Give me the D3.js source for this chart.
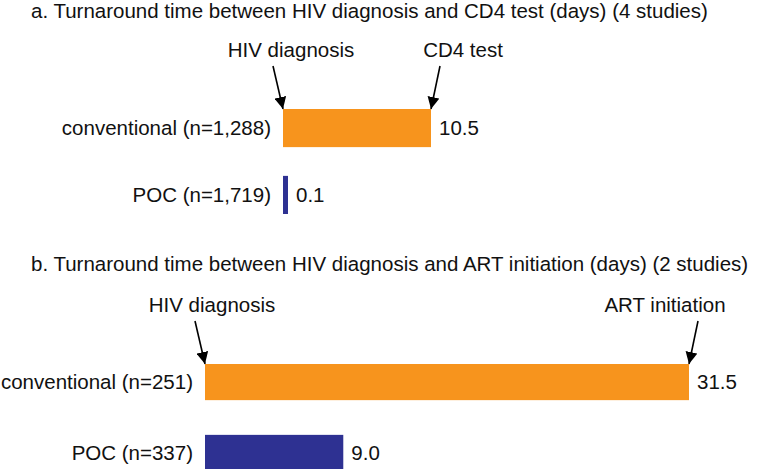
<!DOCTYPE html>
<html>
<head>
<meta charset="utf-8">
<script src="https://cdn.jsdelivr.net/npm/d3@7/dist/d3.min.js"></script>
<style>
  html, body { margin: 0; padding: 0; background: #fff; }
  text { font-family: "Liberation Sans", Arial, Helvetica, sans-serif; fill: #111; }
</style>
</head>
<body>
<svg id="chart" width="759" height="469"></svg>
<script>
// ---- data ----
const titleA = "a. Turnaround time between HIV diagnosis and CD4 test (days) (4 studies)";
const titleB = "b. Turnaround time between HIV diagnosis and ART initiation (days) (2 studies)";
const categoriesA = ["conventional (n=1,288)", "POC (n=1,719)"];
const valuesA = [10.5, 0.1];
const labelsA = ["10.5", "0.1"];
const categoriesB = ["conventional (n=251)", "POC (n=337)"];
const valuesB = [31.5, 9.0];
const labelsB = ["31.5", "9.0"];
const groups = ["conventional", "POC"];
const colors = ["#F7941D", "#2E3192"];
const annotA = ["HIV diagnosis", "CD4 test"];
const annotB = ["HIV diagnosis", "ART initiation"];

const svg = d3.select("#chart");
const FS = 20.5;

svg.append("defs").append("marker")
  .attr("id", "arrow")
  .attr("viewBox", "0 0 12 12")
  .attr("refX", 12).attr("refY", 6)
  .attr("markerWidth", 12).attr("markerHeight", 12)
  .attr("markerUnits", "userSpaceOnUse")
  .attr("orient", "auto")
  .append("path").attr("d", "M0,0 L12,6 L0,12 Z").attr("fill", "#000");

const color = d3.scaleOrdinal().domain(groups).range(colors);

function panel(cfg) {
  const g = svg.append("g");
  g.append("text")
    .attr("x", 31).attr("y", cfg.titleY)
    .attr("font-size", FS)
    .text(cfg.title);

  const x = d3.scaleLinear().domain([0, d3.max(cfg.values)]).range([cfg.x0, cfg.x1]);
  const y = d3.scaleBand().domain(cfg.categories).range([cfg.yTop, cfg.yBottom]).paddingInner(cfg.pad).paddingOuter(0);

  cfg.categories.forEach((c, i) => {
    const v = cfg.values[i];
    const w = Math.max(x(v) - x(0), 5);
    g.append("rect")
      .attr("x", x(0)).attr("y", y(c))
      .attr("width", w).attr("height", y.bandwidth())
      .attr("fill", color(groups[i]));
    g.append("text")
      .attr("x", x(0) + w + 8)
      .attr("y", y(c) + y.bandwidth() / 2)
      .attr("dy", "0.35em")
      .attr("font-size", FS)
      .text(cfg.labels[i]);
    g.append("text")
      .attr("x", x(0) - 12)
      .attr("y", y(c) + y.bandwidth() / 2)
      .attr("dy", "0.35em")
      .attr("text-anchor", "end")
      .attr("font-size", FS)
      .text(c);
  });

  // annotations at start and end of the conventional bar
  const top = y(cfg.categories[0]);
  const ends = [x(0), x(cfg.values[0])];
  const dx = [-10, 9];
  ends.forEach((ex, i) => {
    g.append("line")
      .attr("x1", ex + dx[i]).attr("y1", top - 43)
      .attr("x2", ex).attr("y2", top)
      .attr("stroke", "#000").attr("stroke-width", 1.6)
      .attr("marker-end", "url(#arrow)");
    g.append("text")
      .attr("x", ex + cfg.labelDx[i]).attr("y", top - 52)
      .attr("text-anchor", "middle")
      .attr("font-size", FS)
      .text(cfg.annot[i]);
  });
}

panel({
  title: titleA, titleY: 18,
  categories: categoriesA, values: valuesA, labels: labelsA, annot: annotA,
  x0: 283, x1: 431, yTop: 109, yBottom: 214, pad: 0.43,
  labelDx: [8, 32]
});

panel({
  title: titleB, titleY: 271,
  categories: categoriesB, values: valuesB, labels: labelsB, annot: annotB,
  x0: 205, x1: 689, yTop: 364, yBottom: 471, pad: 0.49,
  labelDx: [7, -24]
});
</script>
</body>
</html>
